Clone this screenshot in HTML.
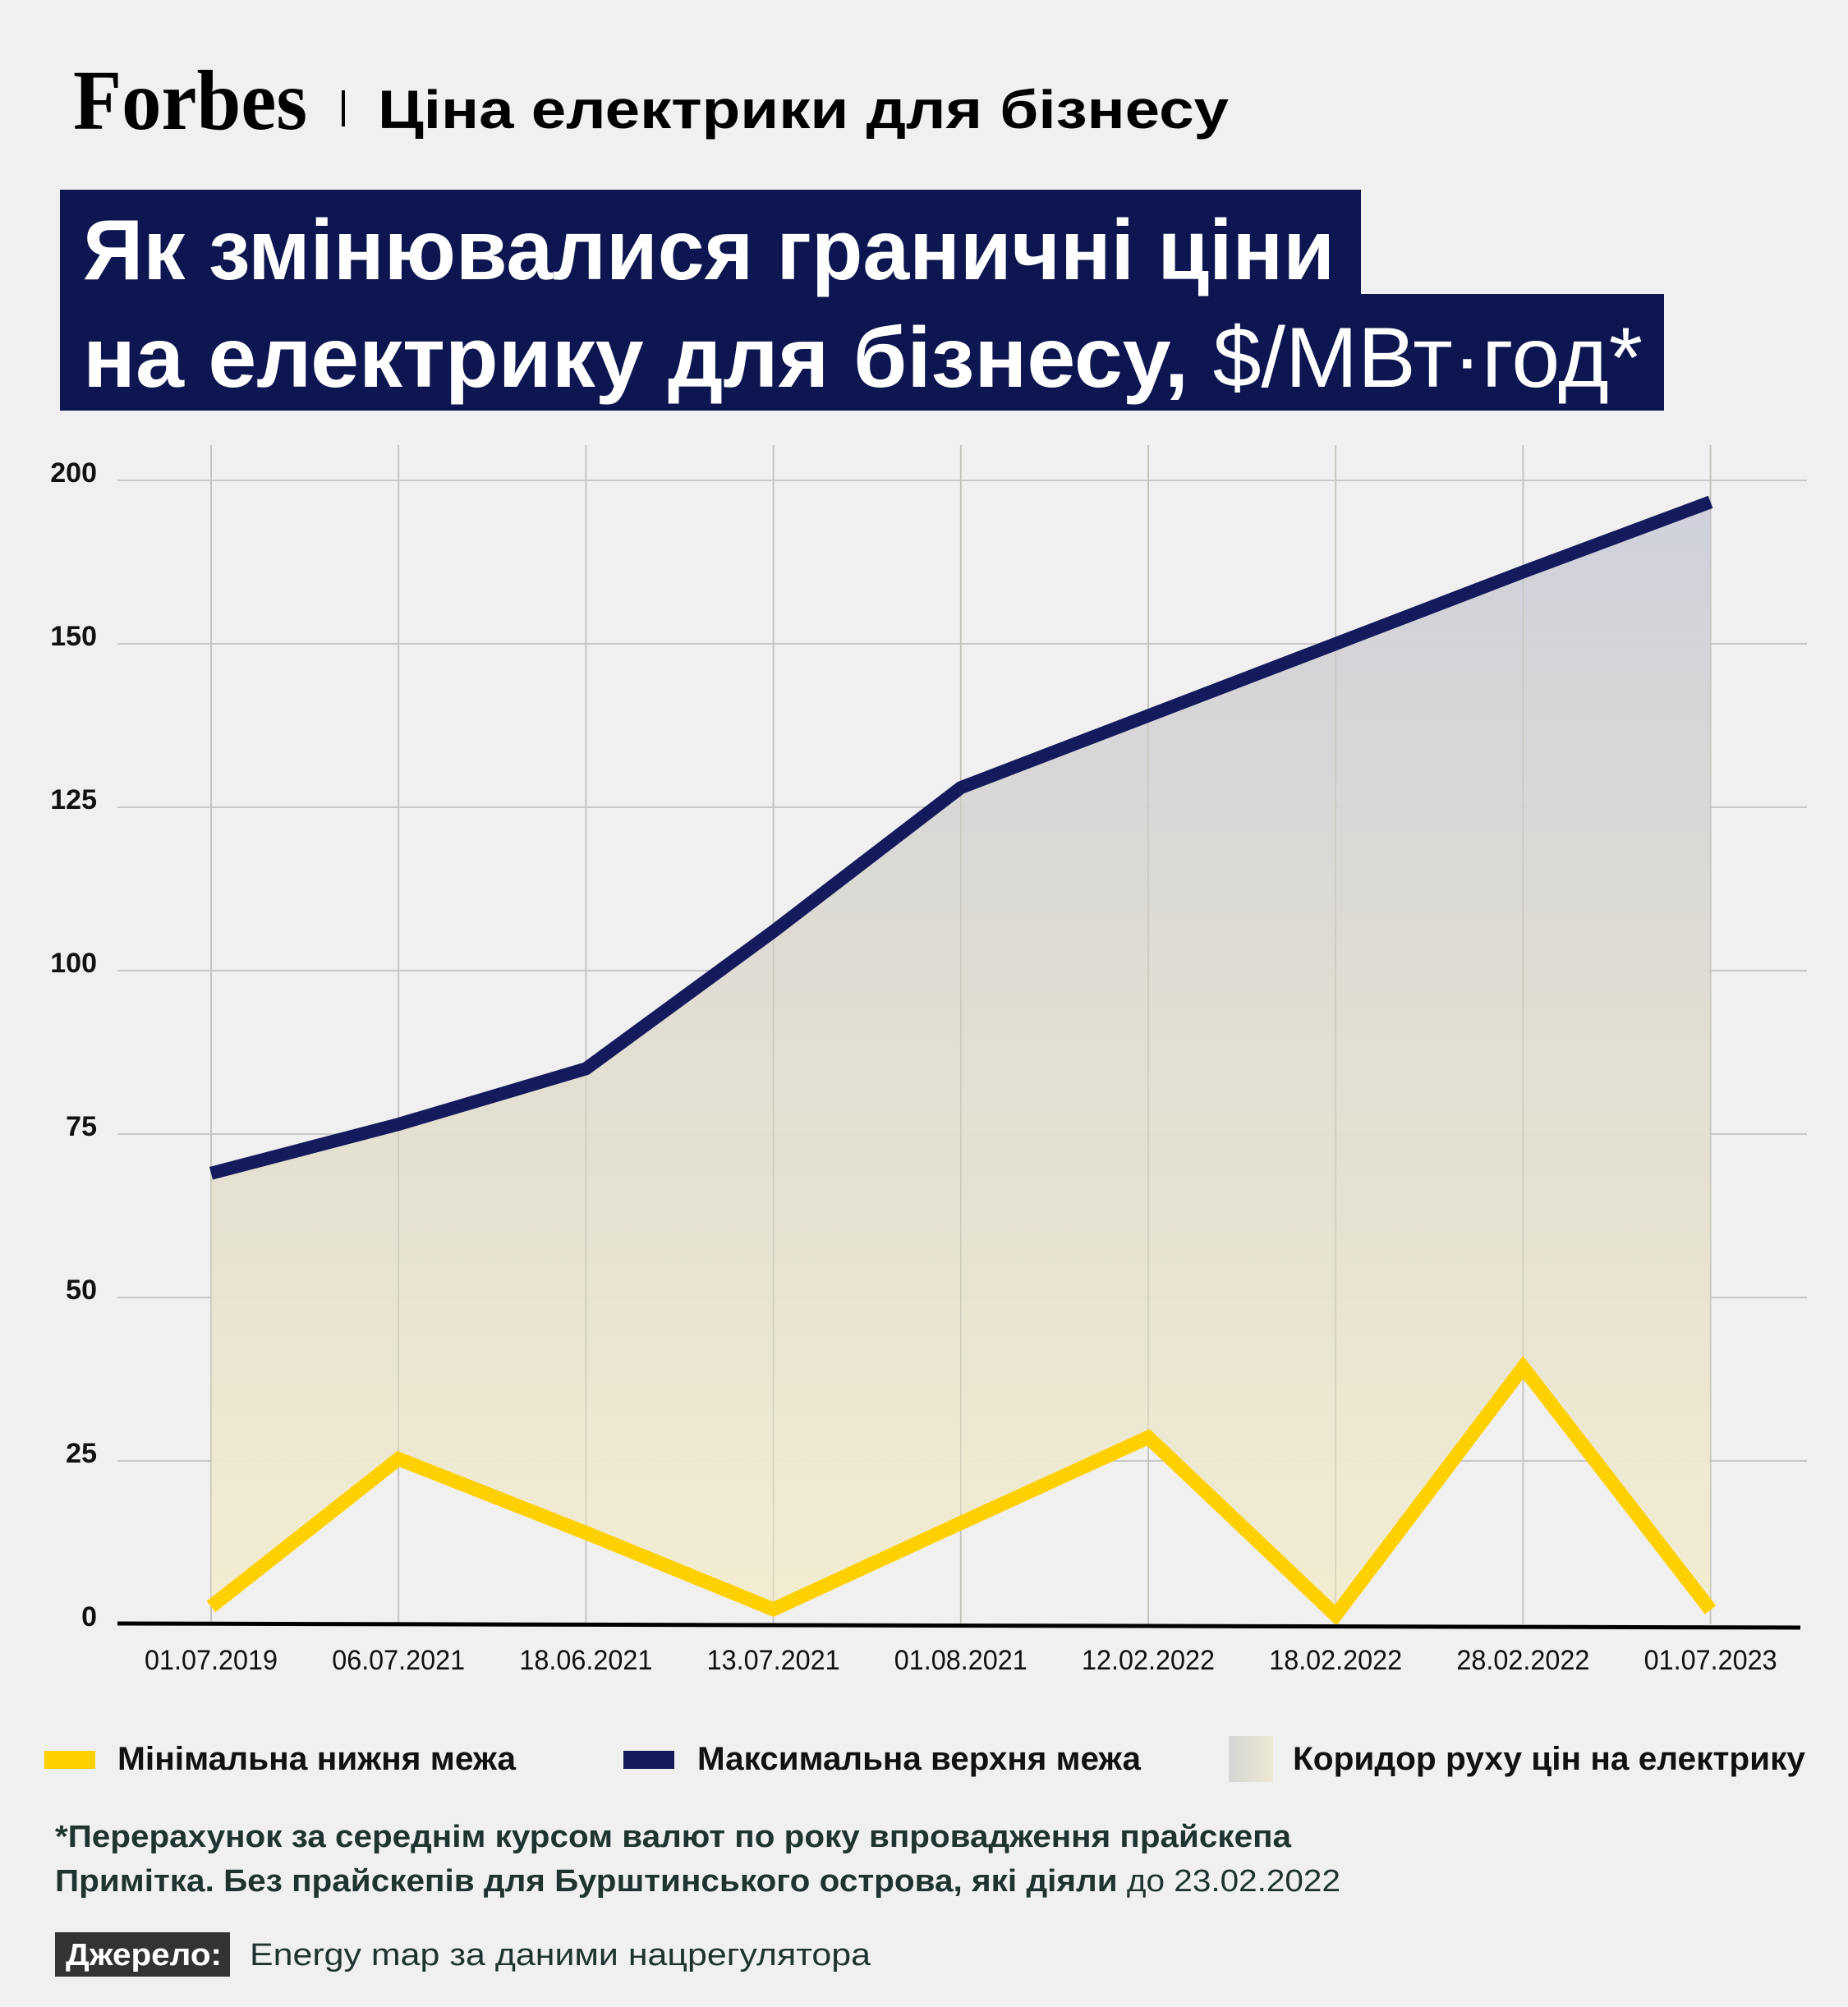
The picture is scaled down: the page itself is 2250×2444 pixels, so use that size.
<!DOCTYPE html>
<html><head><meta charset="utf-8"><style>
html,body{margin:0;padding:0;background:#f0f0f0;}
svg{display:block;}
text{font-family:"Liberation Sans","DejaVu Sans",sans-serif;}
</style></head><body>
<svg id="chart" width="2250" height="2444" viewBox="0 0 2250 2444" xmlns="http://www.w3.org/2000/svg">
<defs>
<linearGradient id="band" gradientUnits="userSpaceOnUse" x1="0" y1="600" x2="0" y2="1980">
<stop offset="0" stop-color="#cdcfdb"/>
<stop offset="0.5" stop-color="#e1ddd0"/>
<stop offset="1" stop-color="#f3edcf"/>
</linearGradient>
<linearGradient id="legband" x1="0" y1="0" x2="1" y2="0">
<stop offset="0" stop-color="#d6d6d6"/>
<stop offset="1" stop-color="#ede8d2"/>
</linearGradient>
</defs>
<rect width="2250" height="2444" fill="#f0f0f0"/>
<text x="89" y="157" font-weight="bold" font-size="104" textLength="285" lengthAdjust="spacingAndGlyphs" fill="#000" style="font-family:'Liberation Serif',serif">Forbes</text>
<rect x="416" y="110" width="4" height="44" fill="#000"/>
<text x="460" y="156" font-weight="bold" font-size="66" textLength="1036" lengthAdjust="spacingAndGlyphs" fill="#000">Ціна електрики для бізнесу</text>
<rect x="73" y="231" width="1584" height="130" fill="#0d1650"/>
<rect x="73" y="358" width="1953" height="142" fill="#0d1650"/>
<text x="101" y="340" font-weight="bold" font-size="104" textLength="1524" lengthAdjust="spacingAndGlyphs" fill="#fff">Як змінювалися граничні ціни</text>
<text x="101" y="471" font-weight="bold" font-size="104" textLength="1899" lengthAdjust="spacingAndGlyphs" fill="#fff">на електрику для бізнесу, <tspan font-weight="normal">$/МВт·год*</tspan></text>
<g id="grid"></g>
<g id="marks"></g>
<g id="axes"></g>
<g>
<rect x="54" y="2132" width="62" height="22" fill="#ffd000"/>
<text x="143" y="2155" font-weight="bold" font-size="40" textLength="485" lengthAdjust="spacingAndGlyphs" fill="#111">Мінімальна нижня межа</text>
<rect x="759" y="2132" width="62" height="22" fill="#141a5c"/>
<text x="849" y="2155" font-weight="bold" font-size="40" textLength="540" lengthAdjust="spacingAndGlyphs" fill="#111">Максимальна верхня межа</text>
<rect x="1496" y="2114" width="54" height="56" fill="url(#legband)"/>
<text x="1574" y="2155" font-weight="bold" font-size="40" textLength="624" lengthAdjust="spacingAndGlyphs" fill="#111">Коридор руху цін на електрику</text>
</g>
<text x="67" y="2249" font-weight="bold" font-size="38" textLength="1505" lengthAdjust="spacingAndGlyphs" fill="#1f3330">*Перерахунок за середнім курсом валют по року впровадження прайскепа</text>
<text x="67" y="2303" font-weight="bold" font-size="38" textLength="1565" lengthAdjust="spacingAndGlyphs" fill="#1f3330">Примітка. Без прайскепів для Бурштинського острова, які діяли <tspan font-weight="normal">до 23.02.2022</tspan></text>
<rect x="67" y="2353" width="213" height="54" fill="#333"/>
<text x="80" y="2393" font-weight="bold" font-size="38" textLength="190" lengthAdjust="spacingAndGlyphs" fill="#fff">Джерело:</text>
<text x="304" y="2393" font-size="38" textLength="756" lengthAdjust="spacingAndGlyphs" fill="#1f3330">Energy map за даними нацрегулятора</text>
</svg>
<script>
const categories = ["01.07.2019","06.07.2021","18.06.2021","13.07.2021","01.08.2021","12.02.2022","18.02.2022","28.02.2022","01.07.2023"];
const maxValues = [69, 76.5, 85, 106, 128, 139, 150, 161, 171.7];
const minValues = [2.7, 25.3, 14, 2.3, 15.5, 28.6, 1.4, 39.3, 2.2];
const tickValues = [0, 25, 50, 75, 100, 125, 150, 175];
const tickLabels = ["0","25","50","75","100","125","150","200"];

const NS = "http://www.w3.org/2000/svg";
const X0 = 257, XSTEP = 228.2, Y0 = 1978, YPER = 199 / 25;
const xs = i => X0 + i * XSTEP;
const ys = v => Y0 - v * YPER;
function mk(tag, attrs, parent) {
  const e = document.createElementNS(NS, tag);
  for (const k in attrs) e.setAttribute(k, attrs[k]);
  parent.appendChild(e);
  return e;
}
const grid = document.getElementById("grid");
const marks = document.getElementById("marks");
const axes = document.getElementById("axes");

tickValues.forEach((v, i) => {
  if (v === 0) return;
  const l = mk("line", {x1: 143, x2: 2200, y1: ys(v), y2: ys(v), stroke: "#c8c8c8", "stroke-width": 2}, grid);
  
  
});
categories.forEach((c, i) => {
  const l = mk("line", {x1: xs(i), x2: xs(i), y1: 542, y2: Y0, stroke: "#cfcfcf", "stroke-width": 2}, grid);
  
  
});

let d = "";
maxValues.forEach((v, i) => { d += (i ? "L" : "M") + xs(i) + "," + ys(v) + " "; });
for (let i = minValues.length - 1; i >= 0; i--) d += "L" + xs(i) + "," + ys(minValues[i]) + " ";
d += "Z";
const band = mk("path", {d: d, fill: "url(#band)", opacity: 0.95}, marks);



categories.forEach((c, i) => {
  const l = mk("line", {x1: xs(i), x2: xs(i), y1: 542, y2: Y0, stroke: "#b9b5a8", "stroke-width": 1.5, opacity: 0.5}, marks);
  
  
});

const maxPts = maxValues.map((v, i) => xs(i) + "," + ys(v)).join(" ");
const maxLine = mk("polyline", {points: maxPts, fill: "none", stroke: "#141a5c", "stroke-width": 16, "stroke-linejoin": "miter"}, marks);


const minPts = minValues.map((v, i) => xs(i) + "," + ys(v)).join(" ");
const minLine = mk("polyline", {points: minPts, fill: "none", stroke: "#ffd000", "stroke-width": 17, "stroke-linejoin": "miter"}, marks);



const axis = mk("line", {x1: 143, y1: 1977, x2: 2192, y2: 1982, stroke: "#000", "stroke-width": 5}, axes);



tickValues.forEach((v, i) => {
  const t = mk("text", {x: 118, y: ys(v) + 2, "text-anchor": "end", "font-size": 34, "font-weight": "bold", fill: "#111"}, axes);
  t.textContent = tickLabels[i];
  
  
});
categories.forEach((c, i) => {
  const t = mk("text", {x: xs(i), y: 2033, "text-anchor": "middle", "font-size": 34, fill: "#111", textLength: 162, lengthAdjust: "spacingAndGlyphs"}, axes);
  t.textContent = c;
  
  
});
</script>
</body></html>
